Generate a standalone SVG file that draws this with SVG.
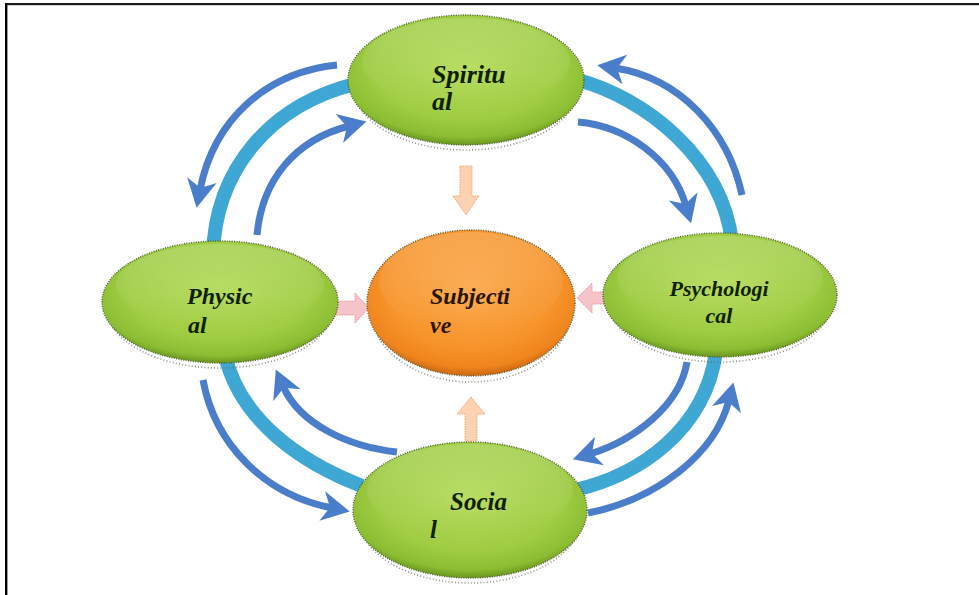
<svg xmlns="http://www.w3.org/2000/svg" width="979" height="595" viewBox="0 0 979 595">
  <style>
    .teal { fill: none; stroke: #3fa7d3; stroke-width: 14; stroke-linecap: butt; }
    .blue { fill: none; stroke: #4a7dca; stroke-width: 7; marker-end: url(#head); }
    .shadow { fill: none; stroke: #6b6b5a; stroke-width: 1.6; stroke-dasharray: 1 2.2; opacity: 0.75; }
    .rim { fill: none; stroke: #4f5c30; stroke-width: 1.4; stroke-dasharray: 1 1.4; }
    .green { fill: url(#gGreen); }
    .orange { fill: url(#gOrange); }
    .sheen { fill: url(#gSheen); }
    .lbl { font-family: "Liberation Serif", "Times New Roman", serif; font-weight: bold; font-style: italic; fill: #0f1f00; }
    .lblo { fill: #2a1400; }
    .pink { fill: #f6c3ca; stroke: #e39aa4; stroke-width: 1; stroke-dasharray: 1.5 1; }
    .peach { fill: #fcd2b2; stroke: #eea776; stroke-width: 1; stroke-dasharray: 1.5 1; }
  </style>
  <defs>
    <radialGradient id="gGreen" cx="50%" cy="40%" r="60%">
      <stop offset="0%" stop-color="#b3da58"/>
      <stop offset="65%" stop-color="#a0cd44"/>
      <stop offset="90%" stop-color="#8bbd32"/>
      <stop offset="100%" stop-color="#6a961e"/>
    </radialGradient>
    <radialGradient id="gOrange" cx="50%" cy="40%" r="60%">
      <stop offset="0%" stop-color="#fba748"/>
      <stop offset="65%" stop-color="#f7952c"/>
      <stop offset="90%" stop-color="#ef851c"/>
      <stop offset="100%" stop-color="#c96614"/>
    </radialGradient>
    <linearGradient id="gSheen" x1="0" y1="0" x2="0" y2="1">
      <stop offset="0%" stop-color="#ffffff" stop-opacity="0.16"/>
      <stop offset="100%" stop-color="#ffffff" stop-opacity="0"/>
    </linearGradient>
    <marker id="head" markerUnits="userSpaceOnUse" viewBox="0 -16 30 32" markerWidth="30" markerHeight="32" refX="10" refY="0" orient="auto">
      <path d="M0,-15 L28,0 L0,15 L8,0 Z" fill="#4a7dca"/>
    </marker>
  </defs>

  <rect x="0" y="0" width="979" height="595" fill="#ffffff"/>
  <!-- frame -->
  <rect x="5" y="3" width="974" height="2.2" fill="#1a1a1a"/>
  <rect x="5" y="3" width="2.4" height="592" fill="#000000"/>

  <g id="connectors">
    <!-- teal ring segments -->
    <path class="teal" d="M213,255 C 215,170 270,105 355,84"/>
    <path class="teal" d="M578,80 C 645,98 722,158 732,242"/>
    <path class="teal" d="M575,490 C 640,475 705,430 716,352"/>
    <path class="teal" d="M225,355 C 240,420 300,462 362,486"/>
    <!-- blue cycle arrows -->
    <path class="blue" d="M337,65 C 268,72 214,118 200,190"/>
    <path class="blue" d="M257,235 C 262,180 295,140 349,126"/>
    <path class="blue" d="M742,195 C 728,130 680,78 615,68"/>
    <path class="blue" d="M578,122 C 625,126 672,158 686,206"/>
    <path class="blue" d="M687,362 C 680,405 635,440 590,454"/>
    <path class="blue" d="M588,513 C 655,500 715,455 729,400"/>
    <path class="blue" d="M203,380 C 215,445 265,495 332,508"/>
    <path class="blue" d="M397,452 C 350,447 300,425 283,386"/>
    <!-- block arrows into Subjective -->
    <polygon class="pink" points="334,301 355,301 355,293 369,308 355,323 355,315 334,315"/>
    <polygon class="pink" points="606,292 592,292 592,283 577,298 592,313 592,304 606,304"/>
    <polygon class="peach" points="460,166 472,166 472,196 479,196 466,215 453,196 460,196"/>
    <polygon class="peach" points="471,397 485,414 477,414 477,441 465,441 465,414 457,414"/>
  </g>

  <g id="node-spiritual">
    <ellipse class="shadow" cx="466" cy="86" rx="113" ry="64"/>
    <ellipse class="green" cx="466" cy="80" rx="118" ry="65"/>
    <ellipse class="sheen" cx="466" cy="62" rx="104" ry="44"/>
    <ellipse class="rim" cx="466" cy="80" rx="118" ry="65"/>
    <text class="lbl" font-size="26" x="432" y="83">Spiritu</text>
    <text class="lbl" font-size="26" x="432" y="110">al</text>
  </g>

  <g id="node-physical">
    <ellipse class="shadow" cx="220" cy="308" rx="113" ry="60"/>
    <ellipse class="green" cx="220" cy="302" rx="118" ry="61"/>
    <ellipse class="sheen" cx="220" cy="285" rx="104" ry="41"/>
    <ellipse class="rim" cx="220" cy="302" rx="118" ry="61"/>
    <text class="lbl" font-size="24" x="187" y="304">Physic</text>
    <text class="lbl" font-size="24" x="188" y="333">al</text>
  </g>

  <g id="node-subjective">
    <ellipse class="shadow" cx="471" cy="310" rx="100" ry="72"/>
    <ellipse class="orange" cx="471" cy="303" rx="104" ry="73"/>
    <ellipse class="sheen" cx="471" cy="282" rx="92" ry="50"/>
    <ellipse class="rim" cx="471" cy="303" rx="104" ry="73"/>
    <text class="lbl lblo" font-size="24" x="430" y="304">Subjecti</text>
    <text class="lbl lblo" font-size="24" x="430" y="333">ve</text>
  </g>

  <g id="node-psychological">
    <ellipse class="shadow" cx="720" cy="301" rx="112" ry="61"/>
    <ellipse class="green" cx="720" cy="295" rx="117" ry="62"/>
    <ellipse class="sheen" cx="720" cy="278" rx="103" ry="42"/>
    <ellipse class="rim" cx="720" cy="295" rx="117" ry="62"/>
    <text class="lbl" font-size="22" x="719" y="296" text-anchor="middle">Psychologi</text>
    <text class="lbl" font-size="22" x="719" y="323" text-anchor="middle">cal</text>
  </g>

  <g id="node-social">
    <ellipse class="shadow" cx="470" cy="516" rx="112" ry="67"/>
    <ellipse class="green" cx="470" cy="510" rx="117" ry="68"/>
    <ellipse class="sheen" cx="470" cy="490" rx="103" ry="46"/>
    <ellipse class="rim" cx="470" cy="510" rx="117" ry="68"/>
    <text class="lbl" font-size="25" x="450" y="510">Socia</text>
    <text class="lbl" font-size="25" x="430" y="538">l</text>
  </g>
</svg>
